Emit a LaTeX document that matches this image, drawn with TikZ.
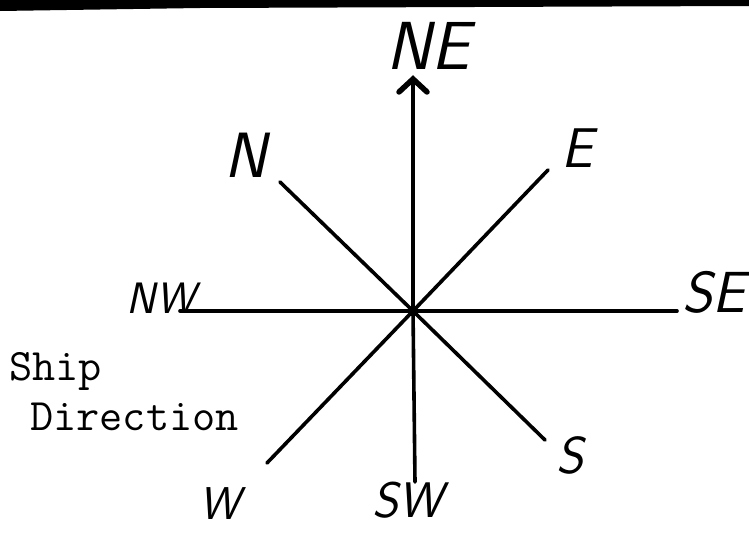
\documentclass[tikz,border=0pt]{standalone}
\usepackage{fontspec}
\begin{document}
\begin{tikzpicture}[x=1pt,y=-1pt,
  ray/.style={line width=3.6pt, line cap=round},
  hand/.style={font=\sffamily\itshape\fontsize{#1}{#1}\selectfont, inner sep=0pt},
  typed/.style={font=\ttfamily\fontsize{45}{48}\selectfont, inner sep=0pt, anchor=base west}]
\useasboundingbox (0,0) rectangle (749,538);
\fill[white] (0,0) rectangle (749,538);
\fill[black] (0,0) -- (749,0) -- (749,6) -- (200,8) -- (0,11) -- cycle;
% centre and ends
\coordinate (c) at (413,311);
\coordinate (tNE) at (413,79);
\coordinate (eSW) at (415,482);
\coordinate (eNW) at (180,311);
\coordinate (eSE) at (677,311);
\coordinate (eN) at (280,182);
\coordinate (eS) at (545,440);
\coordinate (eE) at (548,170);
\coordinate (eW) at (267,463);
\draw[ray] (c) -- (eSW);
\draw[ray] (eNW) -- (c) -- (eSE);
\draw[ray] (eN) -- (c) -- (eS);
\draw[ray] (eW) -- (c) -- (eE);
\draw[ray] (c) -- (tNE);
\draw[line width=5.5pt, line join=miter, line cap=round] (tNE) ++(-14,13) -- (tNE) -- ++(14,13);
\fill (c) circle (5.5);
% labels
\node[hand=68] (lNE) at (428,46) {NE};
\node[hand=64] (lN) at (246,155) {N};
\node[hand=56] (lE) at (577,148) {E};
\node[hand=44] (lNW) at (161,298) {NW};
\node[hand=58] (lSE) at (714,292) {SE};
\node[hand=52] (lS) at (570,455) {S};
\node[hand=50] (lSW) at (408,500) {SW};
\node[hand=46] (lW) at (220,504) {W};
\node[typed] (ship) at (9,380) {Ship};
\node[typed] (dir) at (30,430) {Direction};
\end{tikzpicture}
\end{document}
